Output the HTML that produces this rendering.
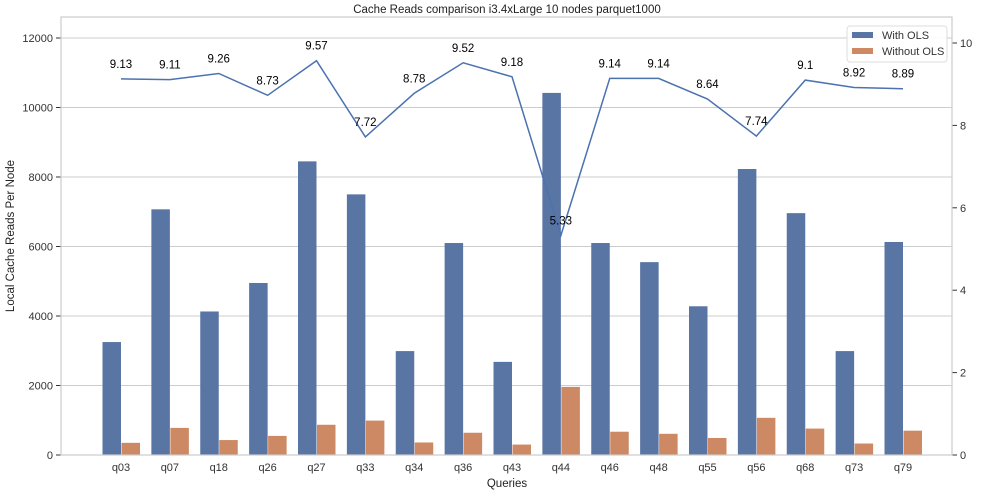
<!DOCTYPE html>
<html><head><meta charset="utf-8"><style>
body{margin:0;background:#fff;}
svg{display:block;font-family:"Liberation Sans","DejaVu Sans",sans-serif;}
</style></head><body>
<svg id="chart" width="983" height="496" viewBox="0 0 983 496"></svg>
<script>
const categories=["q03","q07","q18","q26","q27","q33","q34","q36","q43","q44","q46","q48","q55","q56","q68","q73","q79"];
const withOLS=[3250,7070,4130,4950,8450,7500,2990,6100,2680,10420,6100,5550,4280,8230,6960,2990,6130];
const withoutOLS=[350,780,430,550,870,990,360,640,300,1960,670,610,490,1070,760,330,700];
const ratio=[9.13,9.11,9.26,8.73,9.57,7.72,8.78,9.52,9.18,5.33,9.14,9.14,8.64,7.74,9.1,8.92,8.89];
const leftTicks=[0,2000,4000,6000,8000,10000,12000];
const rightTicks=[0,2,4,6,8,10];

const L=61,R=952,T=17,B=455;
const svg=document.getElementById('chart');
const NS='http://www.w3.org/2000/svg';
function mk(tag,attrs,parent){const e=document.createElementNS(NS,tag);for(const k in attrs)e.setAttribute(k,attrs[k]);(parent||svg).appendChild(e);return e;}
const yL=v=>B-v*(B-38)/12000;
const yR=v=>B-v*(B-43)/10;
const step=(903-121)/16;
const xC=i=>121+i*step;

// grid + left ticks
leftTicks.forEach(t=>{
  const g=mk('line',{x1:L,x2:R,y1:yL(t),y2:yL(t),stroke:'#cccccc','stroke-width':1});
  
  
  const tk=mk('line',{x1:L-5,x2:L,y1:yL(t),y2:yL(t),stroke:'#333','stroke-width':1});
  
  
  const tx=mk('text',{x:L-8,y:yL(t)+4,'text-anchor':'end','font-size':11,fill:'#333'});
  tx.textContent=t;
  
  
});
rightTicks.forEach(t=>{
  const tk=mk('line',{x1:R,x2:R+5,y1:yR(t),y2:yR(t),stroke:'#333','stroke-width':1});
  
  
  const tx=mk('text',{x:R+8,y:yR(t)+4,'font-size':11,fill:'#333'});
  tx.textContent=t;
  
  
});
// bars
categories.forEach((c,i)=>{
  const x=xC(i);
  const b1=mk('rect',{x:x-18.5,y:yL(withOLS[i]),width:18.5,height:B-yL(withOLS[i]),fill:'#5975a4'});
  
  
  const b2=mk('rect',{x:x+0.5,y:yL(withoutOLS[i]),width:18.5,height:B-yL(withoutOLS[i]),fill:'#cc8963'});
  
  
  const tx=mk('text',{x:x,y:B+16,'text-anchor':'middle','font-size':11,fill:'#333'});
  tx.textContent=c;
  
  
});
// line
const pts=ratio.map((v,i)=>xC(i)+','+yR(v)).join(' ');
const pl=mk('polyline',{points:pts,fill:'none',stroke:'#4c72b0','stroke-width':1.5});


ratio.forEach((v,i)=>{
  const tx=mk('text',{x:xC(i),y:yR(v)-11,'text-anchor':'middle','font-size':11.5,fill:'#000'});
  tx.textContent=v;
  
  
});
// frame
const fr=mk('rect',{x:L,y:T,width:R-L,height:B-T,fill:'none',stroke:'#cccccc','stroke-width':1.2});


// titles
const ti=mk('text',{x:507,y:13,'text-anchor':'middle','font-size':11.5,fill:'#222'});
ti.textContent='Cache Reads comparison i3.4xLarge 10 nodes parquet1000';


const xt=mk('text',{x:507,y:487,'text-anchor':'middle','font-size':11.5,fill:'#222'});
xt.textContent='Queries';


const yt=mk('text',{x:14,y:236,'text-anchor':'middle','font-size':11.5,fill:'#222',transform:'rotate(-90 14 236)'});
yt.textContent='Local Cache Reads Per Node';


// legend
const lg=mk('g',{});


mk('rect',{x:847,y:26,width:100,height:36,rx:3,fill:'#fff','fill-opacity':0.85,stroke:'#ddd'},lg);
mk('rect',{x:852,y:32,width:21,height:6,fill:'#5975a4'},lg);
mk('rect',{x:852,y:48,width:21,height:6,fill:'#cc8963'},lg);
const l1=mk('text',{x:882,y:39,'font-size':11,fill:'#333'},lg);l1.textContent='With OLS';


const l2=mk('text',{x:882,y:55,'font-size':11,fill:'#333'},lg);l2.textContent='Without OLS';


</script>
</body></html>
